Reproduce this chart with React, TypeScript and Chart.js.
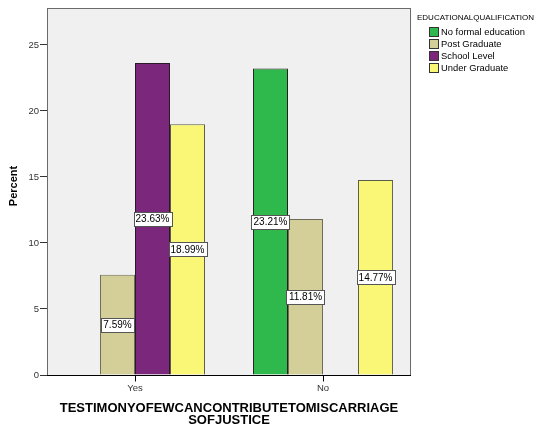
import React, { useEffect, useRef } from "react";
import { Chart, registerables } from "chart.js";

Chart.register(...registerables);

const categories = ["Yes", "No"];
const seriesNames = ["No formal education", "Post Graduate", "School Level", "Under Graduate"];
const noFormal: (number | null)[] = [null, 23.21];
const postGraduate: (number | null)[] = [7.59, 11.81];
const schoolLevel: (number | null)[] = [23.63, null];
const underGraduate: (number | null)[] = [18.99, 14.77];
const yTicks = [0, 5, 10, 15, 20, 25];

const fills = ["#2fb84b", "#d4cf98", "#7b287c", "#fbf776"];
const borders = ["#1f1f1f", "#6e6c58", "#2a1a2a", "#5a5a4a"];

const FONT = "'Liberation Sans', Arial, sans-serif";

const App: React.FC = () => {
  const ref = useRef<HTMLCanvasElement | null>(null);

  useEffect(() => {
    if (!ref.current) return;
    const series = [noFormal, postGraduate, schoolLevel, underGraduate];
    const datasets = series.map((vals, i) => ({
      label: seriesNames[i],
      data: vals.map((v, k) => ({ x: k, y: v })),
      backgroundColor: fills[i],
      borderColor: borders[i],
      borderWidth: 1,
      categoryPercentage: 0.745,
      barPercentage: 1,
    }));

    const plugin = {
      id: "spssDecor",
      beforeDraw(chart: any) {
        const { ctx, chartArea: a } = chart;
        ctx.save();
        ctx.fillStyle = "#f0f0f0";
        ctx.fillRect(a.left, a.top, a.right - a.left, a.bottom - a.top);
        ctx.restore();
      },
      afterDatasetsDraw(chart: any) {
        const { ctx, chartArea: a } = chart;
        ctx.save();
        // frame
        ctx.strokeStyle = "#6a6a6a";
        ctx.lineWidth = 1;
        ctx.strokeRect(Math.round(a.left) + 0.5, Math.round(a.top) + 0.5, Math.round(a.right - a.left) - 1, Math.round(a.bottom - a.top));
        // x axis line and tick marks
        const xs = chart.scales.x;
        const yb = Math.round(a.bottom) + 0.5;
        ctx.strokeStyle = "#000";
        ctx.beginPath();
        ctx.moveTo(a.left, yb);
        ctx.lineTo(a.right, yb);
        categories.forEach((_, i) => {
          const px = Math.round(xs.getPixelForValue(i)) + 0.5;
          ctx.moveTo(px, yb);
          ctx.lineTo(px, yb + 6);
        });
        ctx.stroke();
        // data labels
        ctx.font = `10px ${FONT}`;
        ctx.textAlign = "center";
        ctx.textBaseline = "middle";
        chart.data.datasets.forEach((ds: any, di: number) => {
          const meta = chart.getDatasetMeta(di);
          meta.data.forEach((el: any, k: number) => {
            const v = ds.data[k].y;
            if (v === null || v === undefined) return;
            const cx = el.x;
            const cy = (el.y + el.base) / 2;
            const txt = v.toFixed(2) + "%";
            const w = Math.ceil(ctx.measureText(txt).width) + 4;
            const h = 14;
            const x0 = Math.round(cx - w / 2) + 0.5;
            const y0 = Math.round(cy - h / 2) + 0.5;
            ctx.fillStyle = "#ffffff";
            ctx.fillRect(x0, y0, w, h);
            ctx.strokeStyle = "#555555";
            ctx.strokeRect(x0, y0, w, h);
            ctx.fillStyle = "#000000";
            ctx.fillText(txt, cx, cy + 0.5);
          });
        });
        ctx.restore();
      },
      afterDraw(chart: any) {
        const { ctx, chartArea: a } = chart;
        ctx.save();
        // legend
        ctx.fillStyle = "#000";
        ctx.textAlign = "left";
        ctx.textBaseline = "middle";
        ctx.font = `8px ${FONT}`;
        ctx.fillText("EDUCATIONALQUALIFICATION", 417, 18);
        ctx.font = `9.4px ${FONT}`;
        seriesNames.forEach((name, i) => {
          const cy = 32 + i * 12;
          ctx.fillStyle = fills[i];
          ctx.fillRect(429.5, cy - 4.5, 9, 9);
          ctx.strokeStyle = "#333";
          ctx.lineWidth = 1;
          ctx.strokeRect(429.5, cy - 4.5, 9, 9);
          ctx.fillStyle = "#000";
          ctx.fillText(name, 441, cy + 0.5);
        });
        // y title
        ctx.save();
        ctx.translate(14, 186);
        ctx.rotate(-Math.PI / 2);
        ctx.font = `bold 11px ${FONT}`;
        ctx.textAlign = "center";
        ctx.fillText("Percent", 0, 0);
        ctx.restore();
        // x title
        ctx.font = `bold 13px ${FONT}`;
        ctx.textAlign = "center";
        const xc = (a.left + a.right) / 2;
        ctx.fillText("TESTIMONYOFEWCANCONTRIBUTETOMISCARRIAGE", xc, 408);
        ctx.fillText("SOFJUSTICE", xc, 420);
        ctx.restore();
      },
    };

    const chart = new Chart(ref.current, {
      type: "bar",
      data: { datasets: datasets as any },
      plugins: [plugin],
      options: {
        animation: false,
        responsive: true,
        maintainAspectRatio: false,
        layout: { padding: { left: 0, top: 8, right: 127, bottom: 0 } },
        plugins: { legend: { display: false }, tooltip: { enabled: false } },
        scales: {
          x: {
            type: "linear",
            min: -0.468,
            max: 1.468,
            offset: false,
            afterFit: (s: any) => { s.height = 53; },
            afterBuildTicks: (s: any) => { s.ticks = categories.map((_, i) => ({ value: i })); },
            ticks: {
              padding: 0,
              color: "#333",
              font: { family: FONT, size: 9.5 },
              callback: (v: any) => categories[Math.round(Number(v))] ?? "",
              autoSkip: false,
              maxRotation: 0,
            },
            grid: { display: false },
            border: { display: false },
          },
          y: {
            min: 0,
            max: 27.8,
            afterFit: (s: any) => { s.width = 47; },
            afterBuildTicks: (s: any) => { s.ticks = yTicks.map((v) => ({ value: v })); },
            ticks: {
              padding: 1,
              color: "#333",
              font: { family: FONT, size: 9.5 },
            },
            grid: { display: true, offset: false, drawOnChartArea: false, drawTicks: true, tickLength: 7, color: "#333" },
            border: { display: false },
          },
        },
      },
    });
    return () => chart.destroy();
  }, []);

  return (
    <div style={{ position: "absolute", left: 0, top: 0, width: 538, height: 428, background: "#fff" }}>
      <canvas ref={ref} />
    </div>
  );
};

export default App;
